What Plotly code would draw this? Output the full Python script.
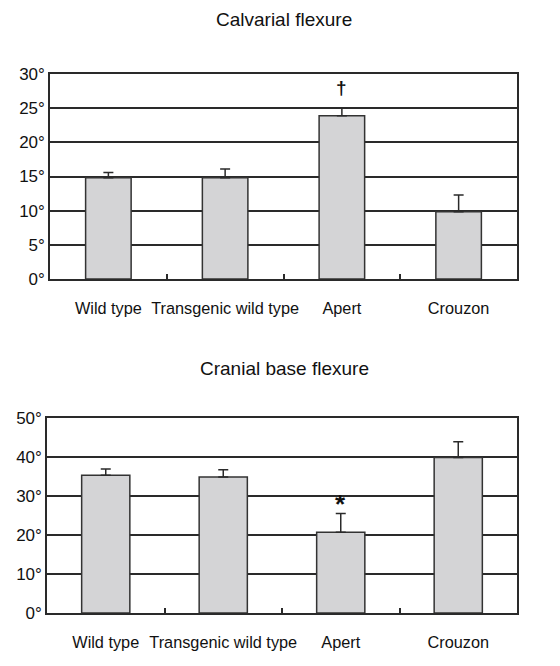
import plotly.graph_objects as go

categories = ["Wild type", "Transgenic wild type", "Apert", "Crouzon"]

calvarial_mean = [14.8, 14.8, 23.9, 9.85]
calvarial_err = [0.8, 1.3, 1.1, 2.45]
calvarial_ticks = [0, 5, 10, 15, 20, 25, 30]
calvarial_ticktext = ["0°", "5°", "10°", "15°", "20°", "25°", "30°"]

cranial_mean = [35.3, 34.9, 20.7, 39.9]
cranial_err = [1.6, 1.8, 4.8, 4.0]
cranial_ticks = [0, 10, 20, 30, 40, 50]
cranial_ticktext = ["0°", "10°", "20°", "30°", "40°", "50°"]

marks = [("Apert", 28.0, "†", "top"), ("Apert", 28.0, "*", "bottom")]

FONT = "Liberation Sans, Arial, sans-serif"
DARK = "#2a2a2a"
OFF = 8  # page body margin
W, H = 560 - 2 * OFF, 666 - 2 * OFF

def px(p):
    return (p - OFF) / W

def py(p):
    return 1 - (p - OFF) / H

fig = go.Figure()

fig.add_trace(go.Bar(
    x=categories, y=calvarial_mean, width=0.39,
    marker=dict(color="#d4d4d6", line=dict(color="#333333", width=1.5)),
    error_y=dict(type="data", symmetric=False, array=calvarial_err,
                 arrayminus=[0] * len(categories), width=5, thickness=1.5, color=DARK),
    xaxis="x", yaxis="y", showlegend=False,
))
fig.add_trace(go.Bar(
    x=categories, y=cranial_mean, width=0.41,
    marker=dict(color="#d4d4d6", line=dict(color="#333333", width=1.5)),
    error_y=dict(type="data", symmetric=False, array=cranial_err,
                 arrayminus=[0] * len(categories), width=5, thickness=1.5, color=DARK),
    xaxis="x2", yaxis="y2", showlegend=False,
))

xcommon = dict(type="category", showline=True, mirror=True, linecolor=DARK, linewidth=1.5,
               ticks="inside", ticklen=5, tickwidth=1.5, tickcolor=DARK, tickson="boundaries",
               showgrid=False, tickfont=dict(family=FONT, size=16.3, color="#111"),
               tickangle=0, automargin=False,
               ticklabelstandoff=14, fixedrange=True)
ycommon = dict(showline=True, mirror=True, linecolor=DARK, linewidth=1.5,
               showgrid=True, gridcolor=DARK, gridwidth=1.5, ticks="",
               tickfont=dict(family=FONT, size=17, color="#111"), zeroline=False,
               automargin=False, fixedrange=True)

fig.update_layout(
    width=W, height=H,
    margin=dict(l=0, r=0, t=0, b=0),
    paper_bgcolor="white", plot_bgcolor="white",
    bargap=0.6,
    xaxis=dict(domain=[px(50), px(517)], anchor="y", **xcommon),
    yaxis=dict(domain=[py(279), py(74)], anchor="x", range=[0, 30],
               tickvals=calvarial_ticks, ticktext=calvarial_ticktext, **ycommon),
    xaxis2=dict(domain=[px(47), px(517)], anchor="y2", **xcommon),
    yaxis2=dict(domain=[py(613), py(418)], anchor="x2", range=[0, 50],
                tickvals=cranial_ticks, ticktext=cranial_ticktext, **ycommon),
)

fig.add_annotation(text="Calvarial flexure", xref="paper", yref="paper",
                   x=px(284), y=py(20), yanchor="middle", showarrow=False,
                   font=dict(family=FONT, size=19, color="#111"))
fig.add_annotation(text="Cranial base flexure", xref="paper", yref="paper",
                   x=px(284), y=py(368), yanchor="middle", showarrow=False,
                   font=dict(family=FONT, size=19, color="#111"))

for cat, yv, sym, panel in marks:
    if panel == "top":
        fig.add_annotation(text="<b>" + sym + "</b>", x=cat, y=yv, xref="x", yref="y",
                           showarrow=False, font=dict(family=FONT, size=19, color="#111"))
    else:
        fig.add_annotation(text="<b>" + sym + "</b>", x=cat, y=yv, xref="x2", yref="y2",
                           showarrow=False, font=dict(family=FONT, size=26, color="#111"))

fig.write_html("out.html")
